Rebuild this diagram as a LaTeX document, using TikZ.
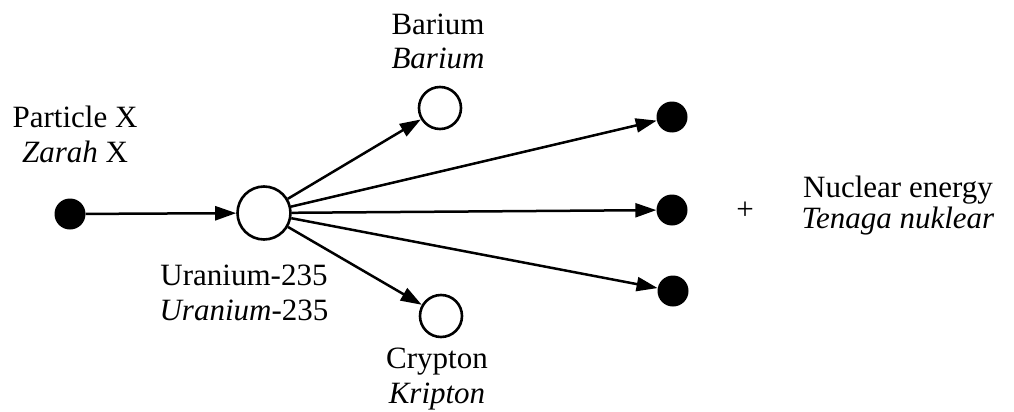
\documentclass[tikz,border=0pt]{standalone}
\usepackage{fontspec}
\setmainfont{Liberation Serif}
\usetikzlibrary{arrows.meta}
\begin{document}
\begin{tikzpicture}[x=1pt,y=-1pt,
  lbl/.style={anchor=base,inner sep=0pt,font=\fontsize{31}{35}\selectfont},
  opencirc/.style={circle,draw,line width=2.6pt,fill=white,inner sep=0pt},
  fullcirc/.style={circle,fill=black,inner sep=0pt,minimum size=31pt},
  arr/.style={line width=2.5pt,-{Triangle[length=21pt,width=14pt]}}]
\useasboundingbox (0,0) rectangle (1014,412);
\node[fullcirc] (x) at (70,214) {};
\node[opencirc,minimum size=53pt] (u) at (264,213) {};
\node[opencirc,minimum size=42pt] (ba) at (440,108) {};
\node[opencirc,minimum size=42pt] (kr) at (441,316) {};
\node[fullcirc] (n1) at (672,117) {};
\node[fullcirc] (n2) at (672,210) {};
\node[fullcirc] (n3) at (673,291) {};
\draw[arr] (x) -- (u);
\draw[arr] (u) -- (ba);
\draw[arr] (u) -- (kr);
\draw[arr] (u) -- (n1);
\draw[arr] (u) -- (n2);
\draw[arr] (u) -- (n3);
\node[lbl] (px1) at (75,127) {Particle X};
\node[lbl] (px2) at (75,162) {\textit{Zarah} X};
\node[lbl] (ba1) at (438,35) {Barium};
\node[lbl] (ba2) at (438,69) {\textit{Barium}};
\node[lbl] (u1) at (244,285) {Uranium-235};
\node[lbl] (u2) at (244,320) {\textit{Uranium}-235};
\node[lbl] (kr1) at (437,368) {Crypton};
\node[lbl] (kr2) at (437,403) {\textit{Kripton}};
\node[lbl] (plus) at (745,219) {+};
\node[lbl] (ne1) at (898,197) {Nuclear energy};
\node[lbl] (ne2) at (898,228) {\textit{Tenaga nuklear}};
\end{tikzpicture}
\end{document}
